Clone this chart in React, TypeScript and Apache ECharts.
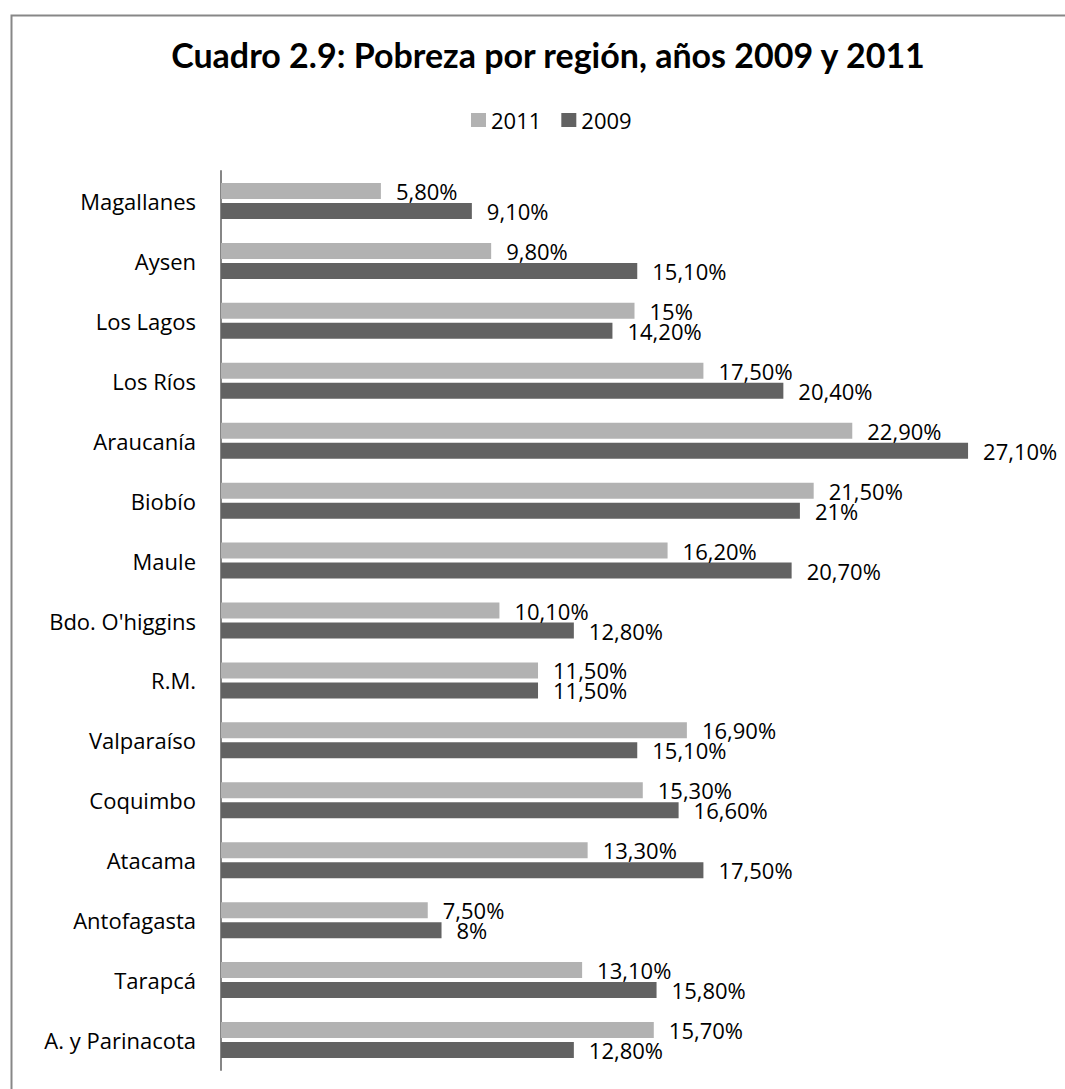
import React, { useEffect, useRef } from "react";
import * as echarts from "echarts";

const categories = [
  "Magallanes",
  "Aysen",
  "Los Lagos",
  "Los Ríos",
  "Araucanía",
  "Biobío",
  "Maule",
  "Bdo. O'higgins",
  "R.M.",
  "Valparaíso",
  "Coquimbo",
  "Atacama",
  "Antofagasta",
  "Tarapcá",
  "A. y Parinacota",
];
const values2011 = [5.8, 9.8, 15, 17.5, 22.9, 21.5, 16.2, 10.1, 11.5, 16.9, 15.3, 13.3, 7.5, 13.1, 15.7];
const values2009 = [9.1, 15.1, 14.2, 20.4, 27.1, 21, 20.7, 12.8, 11.5, 15.1, 16.6, 17.5, 8, 15.8, 12.8];
const seriesNames = ["2011", "2009"];
const titleText = "Cuadro 2.9: Pobreza por región, años 2009 y 2011";

const FONT = "'Open Sans', sans-serif";
const TITLE_FONT = "Lato, 'Open Sans', sans-serif";

function fmt(v: number): string {
  if (Number.isInteger(v)) return `${v}%`;
  return v.toFixed(2).replace(".", ",") + "%";
}

export default function App() {
  const ref = useRef<HTMLDivElement>(null);
  useEffect(() => {
    if (!ref.current) return;
    const chart = echarts.init(ref.current, undefined, { renderer: "svg" });
    const label = {
      show: true,
      position: "right" as const,
      distance: 15,
      color: "#000",
      fontFamily: FONT,
      fontSize: 22,
      formatter: (p: any) => fmt(p.value),
    };
    chart.setOption({
      animation: false,
      backgroundColor: "#fff",
      title: {
        text: titleText,
        left: 543,
        textAlign: "center",
        top: 32,
        textStyle: { fontFamily: TITLE_FONT, fontWeight: "bold", fontSize: 34, color: "#000" },
      },
      legend: {
        data: seriesNames,
        left: 466,
        top: 104,
        itemWidth: 15,
        itemHeight: 14,
        itemGap: 20,
        icon: "rect",
        textStyle: { fontFamily: FONT, fontSize: 22, color: "#000" },
      },
      graphic: [
        {
          type: "rect",
          left: 9,
          top: 13,
          shape: { width: 1100, height: 1100 },
          style: { fill: "none", stroke: "#878787", lineWidth: 2 },
          silent: true,
        },
      ],
      grid: { left: 221, top: 171, width: 827, bottom: 19, containLabel: false },
      xAxis: {
        type: "value",
        min: 0,
        max: 30,
        show: false,
      },
      yAxis: {
        type: "category",
        data: categories,
        inverse: true,
        axisLine: { show: true, lineStyle: { color: "#868686", width: 2 } },
        axisTick: { show: false },
        axisLabel: { fontFamily: FONT, fontSize: 22, color: "#000", margin: 25 },
      },
      series: [
        {
          name: seriesNames[0],
          type: "bar",
          data: values2011,
          barWidth: 16,
          barGap: "25%",
          itemStyle: { color: "#b2b2b2" },
          label,
        },
        {
          name: seriesNames[1],
          type: "bar",
          data: values2009,
          barWidth: 16,
          barGap: "25%",
          itemStyle: { color: "#626262" },
          label,
        },
      ],
    });
    return () => chart.dispose();
  }, []);
  return (
    <div style={{ position: "absolute", left: 0, top: 0 }}>
      <div ref={ref} style={{ width: 1065, height: 1089 }} />
    </div>
  );
}
